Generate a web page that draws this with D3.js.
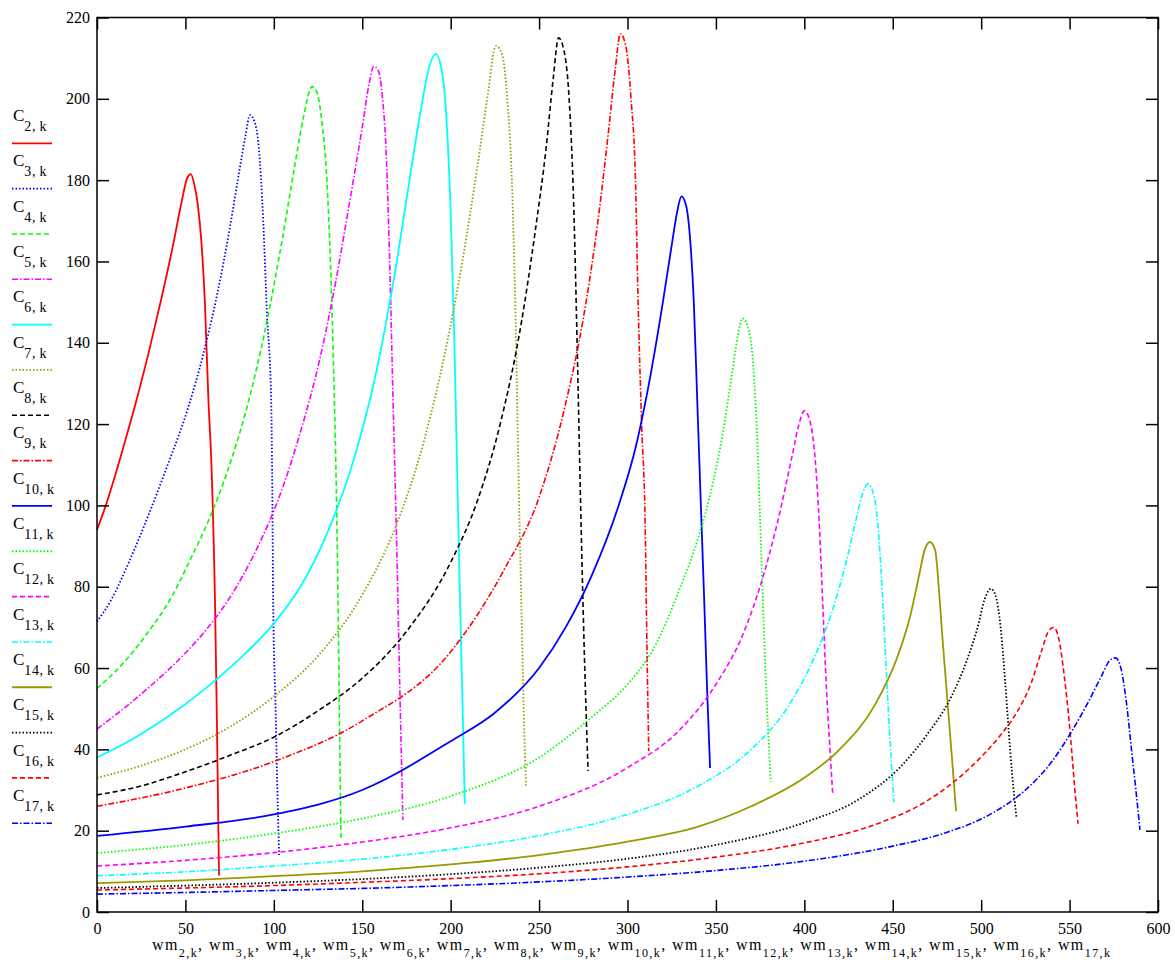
<!DOCTYPE html>
<html><head><meta charset="utf-8">
<script src="https://cdn.jsdelivr.net/npm/d3@7"></script>
<style>
body{margin:0;background:#fff}
svg{display:block}
svg text{font-family:"Liberation Serif","Times New Roman","DejaVu Serif",serif !important;fill:#000}
</style>
</head><body>
<svg id="chart" width="1175" height="960" style="font-family:'Liberation Serif','DejaVu Serif',serif"></svg>
<script>
// ---- data ----
const seriesNames = ["2","3","4","5","6","7","8","9","10","11","12","13","14","15","16","17"];
const xTicks = [0,50,100,150,200,250,300,350,400,450,500,550,600];
const yTicks = [0,20,40,60,80,100,120,140,160,180,200,220];

const wm2 = [0,4.5,10,16,22.4,30,37,43,48,51,53,55,57,59,61,63,64.8,66.7,67.7,68.4,69];
const c2  = [94,99.4,107,116,126,139,152,164,175,180.5,181.5,179,174,165,150,126,109,77,50,28,9];
const wm3 = [0,8.3,18,29,40,51.5,60,68,75,80,84,86.5,89,91.5,94,96,98.5,99.2,99.6,101,102,103];
const c3  = [71.4,77,86,97.5,110,124,137,152,168,181,191,196,194.5,188,170,148,126,100,77,50,30,14];
const wm4 = [0,10,20,30,41.3,52,64,75,84.7,95,105,112,117,121.6,124,127,130,132,134,135.5,136.5,137.3,138];
const c4  = [55,59,63.8,69.5,76.8,86,97.2,110,124,143,166,184,196,203,202,195,180,160,130,100,70,40,17.7];
const wm5 = [0,15,30,45,60,74.3,90,103.5,115,126,135,143,150,154,156.5,159,161.5,163.5,165.5,167.4,169.5,171.4,173];
const c5  = [45,50,55.5,61.5,68.5,76.8,89,102.6,118,136,155,175,193,204,208,207,200,187,160,126,90,52,22.6];
const wm6 = [0,20,40,60,80,100,115,130,145,158,168,176,183,188,191.5,194.5,197.5,200,202,203.5,205,206.5,208];
const c6  = [38,42.5,48,54.5,62,71,80,93,111,133,156,178,197,208,211,208,196,172,142,112,82,55,26.6];
const wm7 = [0,25,50,75,100,125,150,170,185,197,207,215,221,225.5,229,232,235,237,238.5,240,241.3,242.6];
const c7  = [33,36,40,45.5,53,63,78,96,116,138,161,183,201,213,211,200,175,140,105,75,50,30.8];
const wm8 = [0,25,50,75,100,125,150,175,200,215,228,240,248,254,258,261,264,267,269.5,271.5,273.5,275.5,277.7];
const c8  = [28.8,31,34.5,38.5,43,49.5,57.5,69,86,101,120,145,168,188,205,215,212,200,175,140,100,65,34.7];
const wm9 = [0,50,100,150,200,230,250,265,275,283,289,293,296,299,302,304.5,306,308,310,311,312];
const c9  = [26,30.5,37,47,64,84,102,125,146,169,191,207,216,213,200,180,150,120,95,65,39.6];
const wm10 = [0,50,100,150,200,225,250,265,280,295,305,313,320,325,328,330.5,333,335.5,337.5,339.5,341.5,343.5,345,346.7];
const c10  = [18.7,21,24,30,42,49,60,70,83,100,115,132,150,164,172,176,174,165,150,125,100,75,55,35.4];
const wm11 = [0,50,100,150,200,250,280,300,315,330,340,348,354,359,362.5,365,368,371,373.5,375.5,377.5,379.5,381];
const c11  = [14.5,16.5,19.3,23,28.5,38,48,56,65,80,92,105,118,132,142,146,144,135,115,90,65,45,32];
const wm12 = [0,50,100,150,200,250,300,330,350,365,377,386,393,397,400,403,406,408.5,410.5,412.5,414.5,416];
const c12  = [11.3,12.7,14.6,17.2,20.7,26,35.5,45,56,68,83,98,112,120,123.3,121,112,95,75,55,40,29.3];
const wm13 = [0,50,100,150,200,250,300,340,370,390,405,415,423,429,433,436,439,442,444.5,446.5,448.5,450.7];
const c13  = [8.9,9.9,11.3,13,15.4,18.8,24,31,40,50,62,73,85,96,103,105.3,103,93,75,58,42,27];
const wm14 = [0,50,100,150,200,250,300,340,370,400,420,440,452,460,465,468,471,474,476,478,480,482,484,485.8];
const c14  = [7.1,7.8,8.8,10,11.7,14,17.3,21,26,33,40,51,62,73,83,89,91,89,80,68,57,46,35,24.8];
const wm15 = [0,50,100,150,200,250,300,350,400,430,455,470,482,492,498,502,505.5,508,511,513.5,515.5,517.5,520];
const c15  = [5.9,6.5,7.2,8.1,9.3,10.9,13.1,16.5,22,27.5,36,44,52,62,70,77,79.5,78,70,57,45,34,23];
const wm16 = [0,50,100,150,200,250,300,350,400,440,470,495,510,520,528,534,538,541,544,547,549.5,551.5,553,554.8];
const c16  = [5.4,5.9,6.5,7.3,8.2,9.4,11.1,13.5,17,21.5,27.5,36,43,49,56,64,69,70,67,58,48,38,30,21.7];
const wm17 = [0,50,100,150,200,250,300,350,400,450,480,505,525,540,552,561,568,573,576,579,582,585,587.5,589.8];
const c17  = [4.4,4.8,5.3,5.8,6.5,7.4,8.6,10.2,12.5,16.2,19.5,24,30,37,45,52,58,62,62.5,60,52,40,30,20.2];

const xsData = [wm2,wm3,wm4,wm5,wm6,wm7,wm8,wm9,wm10,wm11,wm12,wm13,wm14,wm15,wm16,wm17];
const ysData = [c2,c3,c4,c5,c6,c7,c8,c9,c10,c11,c12,c13,c14,c15,c16,c17];

// ---- styles ----
const colors = ["#ff0000","#0000ff","#00ff00","#ff00ff","#00ffff","#999900","#000000","#ff0000",
                "#0000ff","#00ff00","#ff00ff","#00ffff","#999900","#000000","#ff0000","#0000ff"];
const SOLID = null, DOT = "1.5,2", DASH = "5,3", DASHDOT = "6,2,1.5,2";
const dashes = [SOLID,DOT,DASH,DASHDOT,SOLID,DOT,DASH,DASHDOT,SOLID,DOT,DASH,DASHDOT,SOLID,DOT,DASH,DASHDOT];
const widths = dashes.map(d => d === SOLID ? 1.8 : (d === DOT ? 1.8 : 1.6));
const FONT = "'Liberation Serif','Times New Roman','DejaVu Serif',serif";

// ---- layout ----
const L = 97, R = 1158, T = 17.5, B = 912;
const svg = d3.select("#chart");
const x = d3.scaleLinear().domain([0,600]).range([L,R]);
const y = d3.scaleLinear().domain([0,220]).range([B,T]);

// curves
const line = d3.line().x(d => x(d[0])).y(d => y(d[1])).curve(d3.curveMonotoneX);
const gCurves = svg.append("g");
seriesNames.forEach((n,i) => {
  const pts = xsData[i].map((v,j) => [v, ysData[i][j]]);
  gCurves.append("path").datum(pts)
    .attr("d", line)
    .attr("fill","none")
    .attr("stroke", colors[i])
    .attr("stroke-width", widths[i])
    .attr("stroke-dasharray", dashes[i]);
});

// frame + inward ticks via axes
const tk = 12;
function styleAxis(g){
  g.attr("font-family", null);
  g.select(".domain").remove();
  g.selectAll("line").attr("stroke","#000").attr("stroke-width",1.5);
  g.selectAll("text").attr("font-size",16).style("font-family", FONT);
}
svg.append("g").attr("transform",`translate(0,${B})`)
  .call(d3.axisBottom(x).tickValues(xTicks).tickSize(-tk).tickPadding(11).tickFormat(d3.format("d")))
  .call(styleAxis);
svg.append("g").attr("transform",`translate(0,${T})`)
  .call(d3.axisTop(x).tickValues(xTicks).tickSize(-tk).tickFormat(""))
  .call(styleAxis);
svg.append("g").attr("transform",`translate(${L},0)`)
  .call(d3.axisLeft(y).tickValues(yTicks).tickSize(-tk).tickPadding(7).tickFormat(d3.format("d")))
  .call(styleAxis);
svg.append("g").attr("transform",`translate(${R},0)`)
  .call(d3.axisRight(y).tickValues(yTicks).tickSize(-tk).tickFormat(""))
  .call(styleAxis);
svg.append("rect").attr("x",L).attr("y",T).attr("width",R-L).attr("height",B-T)
  .attr("fill","none").attr("stroke","#000").attr("stroke-width",1.5);

// legend
const lg = svg.append("g");
seriesNames.forEach((n,i) => {
  const base = 121 + i*45.33;
  const t = lg.append("text").attr("x",13).attr("y",base).attr("font-size",17).style("font-family", FONT);
  t.append("tspan").text("C");
  t.append("tspan").attr("font-size",14).attr("dy",10).attr("letter-spacing",0.6).text(n + ",\u2009k");
  lg.append("line").attr("x1",12).attr("x2",52).attr("y1",base+22.3).attr("y2",base+22.3)
    .attr("stroke",colors[i]).attr("stroke-width", widths[i])
    .attr("stroke-dasharray",dashes[i]);
});

// x-axis title
const xt = svg.append("text").attr("x",631).attr("y",950).attr("text-anchor","middle")
  .attr("font-size",16).style("font-family", FONT)
  .attr("textLength",958).attr("lengthAdjust","spacing");
seriesNames.forEach((n,i) => {
  xt.append("tspan").attr("dy", i===0 ? 0 : -7).text((i===0 ? "" : ", ") + "wm");
  xt.append("tspan").attr("font-size",12).attr("dy",7).text(n + ",k");
});
</script>
</body></html>
